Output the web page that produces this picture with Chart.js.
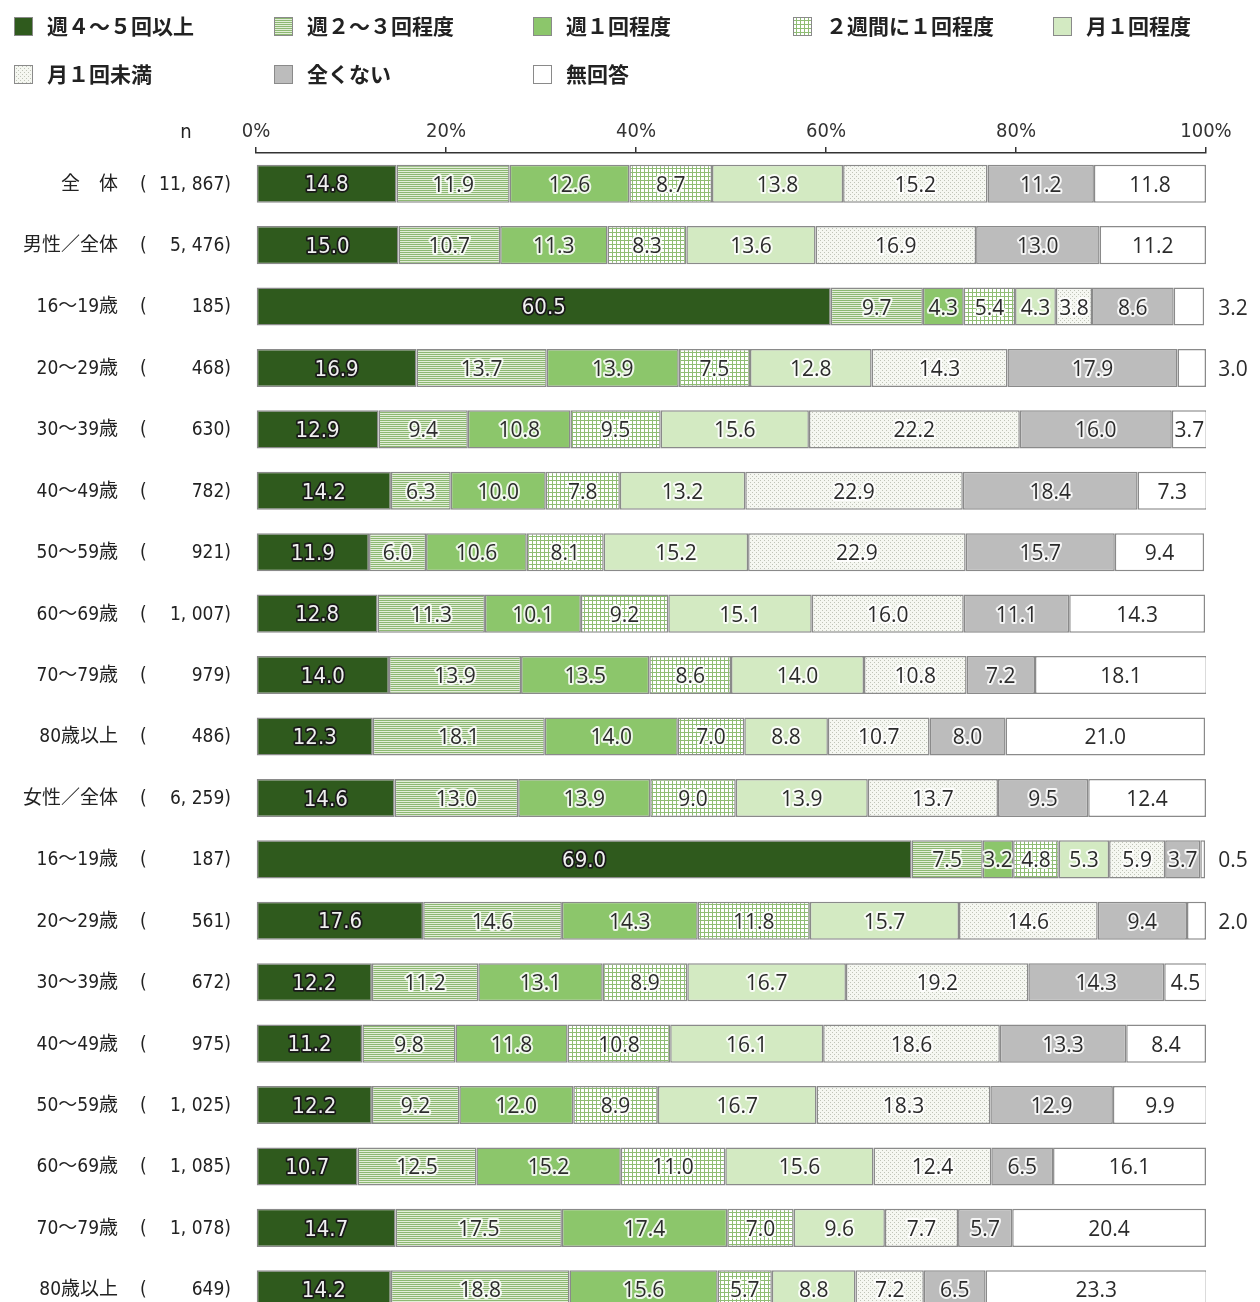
<!DOCTYPE html>
<html lang="ja">
<head>
<meta charset="UTF-8">
<title>運動の頻度</title>
<script src="https://cdn.jsdelivr.net/npm/chart.js"></script>
<style>
  html, body { margin: 0; padding: 0; background: #fff; overflow: hidden; }
  .wrap { position: relative; width: 1260px; height: 1322px; }
</style>
</head>
<body>
<div class="wrap"><canvas id="chart"></canvas></div>
<script>
// ---- data ----
const groupNames = ['全　体', '男性／全体', '16～19歳', '20～29歳', '30～39歳', '40～49歳', '50～59歳',
  '60～69歳', '70～79歳', '80歳以上', '女性／全体', '16～19歳', '20～29歳', '30～39歳', '40～49歳',
  '50～59歳', '60～69歳', '70～79歳', '80歳以上'];
const groupN = ['11, 867', '5, 476', '185', '468', '630', '782', '921', '1, 007', '979', '486',
  '6, 259', '187', '561', '672', '975', '1, 025', '1, 085', '1, 078', '649'];
const seriesNames = ['週４～５回以上', '週２～３回程度', '週１回程度', '２週間に１回程度',
  '月１回程度', '月１回未満', '全くない', '無回答'];

const week4to5   = [14.8, 15.0, 60.5, 16.9, 12.9, 14.2, 11.9, 12.8, 14.0, 12.3, 14.6, 69.0, 17.6, 12.2, 11.2, 12.2, 10.7, 14.7, 14.2];
const week2to3   = [11.9, 10.7, 9.7, 13.7, 9.4, 6.3, 6.0, 11.3, 13.9, 18.1, 13.0, 7.5, 14.6, 11.2, 9.8, 9.2, 12.5, 17.5, 18.8];
const week1      = [12.6, 11.3, 4.3, 13.9, 10.8, 10.0, 10.6, 10.1, 13.5, 14.0, 13.9, 3.2, 14.3, 13.1, 11.8, 12.0, 15.2, 17.4, 15.6];
const biweekly   = [8.7, 8.3, 5.4, 7.5, 9.5, 7.8, 8.1, 9.2, 8.6, 7.0, 9.0, 4.8, 11.8, 8.9, 10.8, 8.9, 11.0, 7.0, 5.7];
const monthly    = [13.8, 13.6, 4.3, 12.8, 15.6, 13.2, 15.2, 15.1, 14.0, 8.8, 13.9, 5.3, 15.7, 16.7, 16.1, 16.7, 15.6, 9.6, 8.8];
const lessMonth  = [15.2, 16.9, 3.8, 14.3, 22.2, 22.9, 22.9, 16.0, 10.8, 10.7, 13.7, 5.9, 14.6, 19.2, 18.6, 18.3, 12.4, 7.7, 7.2];
const never      = [11.2, 13.0, 8.6, 17.9, 16.0, 18.4, 15.7, 11.1, 7.2, 8.0, 9.5, 3.7, 9.4, 14.3, 13.3, 12.9, 6.5, 5.7, 6.5];
const noAnswer   = [11.8, 11.2, 3.2, 3.0, 3.7, 7.3, 9.4, 14.3, 18.1, 21.0, 12.4, 0.5, 2.0, 4.5, 8.4, 9.9, 16.1, 20.4, 23.3];

const xTicks = [0, 20, 40, 60, 80, 100];

const NARROW = '"DejaVu Sans Condensed", "Liberation Sans Narrow", "Liberation Sans"';

// ---- fills ----
function makePattern(size, draw) {
  const c = document.createElement('canvas');
  c.width = size; c.height = size;
  const g = c.getContext('2d');
  draw(g, size);
  return g.createPattern(c, 'repeat');
}
const stripeFill = makePattern(4, (g, s) => {
  g.fillStyle = '#e2eed8'; g.fillRect(0, 0, s, s);
  g.fillStyle = '#8db872'; g.fillRect(0, 0, s, 1); g.fillRect(0, 2, s, 1);
});
const gridFill = makePattern(4, (g, s) => {
  g.fillStyle = '#ffffff'; g.fillRect(0, 0, s, s);
  g.fillStyle = '#8fbd74'; g.fillRect(0, 0, s, 1); g.fillRect(0, 0, 1, s);
});
const dotFill = makePattern(4, (g, s) => {
  g.fillStyle = '#f5f7f1'; g.fillRect(0, 0, s, s);
  g.fillStyle = '#c0c4b8'; g.fillRect(0, 0, 1, 1); g.fillRect(2, 2, 1, 1);
});
const fills = ['#2f5a1d', stripeFill, '#8cc66b', gridFill, '#d3eac2', dotFill, '#bcbcbc', '#ffffff'];
const seriesData = [week4to5, week2to3, week1, biweekly, monthly, lessMonth, never, noAnswer];

// ---- plugins ----
const labelsPlugin = {
  id: 'segLabels',
  afterDatasetsDraw(chart) {
    const ctx = chart.ctx;
    ctx.save();
    ctx.textAlign = 'center';
    ctx.textBaseline = 'middle';
    ctx.lineJoin = 'round';
    chart.data.datasets.forEach((ds, d) => {
      const meta = chart.getDatasetMeta(d);
      meta.data.forEach((el, i) => {
        const v = ds.data[i];
        let x = (el.x + el.base) / 2;
        const y = el.y + 2;
        const txt = v.toFixed(1);
        if (d === 0) {
          ctx.font = '22px ' + NARROW;
          ctx.lineWidth = 3.5;
          ctx.strokeStyle = '#1a1a1a';
          ctx.strokeText(txt, x, y);
          ctx.fillStyle = '#f0f0f0';
          ctx.fillText(txt, x, y);
          return;
        }
        if (d === 7 && v < 3.5) x = chart.chartArea.right + 27;
        ctx.font = '21px "Open Sans", "Noto Sans"';
        ctx.lineWidth = 4;
        ctx.strokeStyle = 'rgba(255,255,255,0.85)';
        ctx.strokeText(txt, x, y);
        ctx.fillStyle = '#2b2b2b';
        ctx.fillText(txt, x, y);
      });
    });
    ctx.restore();
  }
};

const sidePlugin = {
  id: 'sideText',
  afterDraw(chart) {
    const ctx = chart.ctx;
    const yScale = chart.scales.y;
    ctx.save();
    ctx.fillStyle = '#222';
    ctx.textBaseline = 'middle';
    ctx.font = '20px ' + NARROW;
    ctx.textAlign = 'center';
    ctx.fillText('n', 186, 133);
    groupNames.forEach((name, i) => {
      const y = yScale.getPixelForValue(i) + 1;
      ctx.font = '19px ' + NARROW + ', "Noto Sans CJK JP"';
      ctx.textAlign = 'right';
      ctx.fillText(name, 118, y);
      ctx.textAlign = 'left';
      ctx.fillText('(', 140, y);
      ctx.textAlign = 'right';
      ctx.fillText(groupN[i] + ')', 231, y);
    });
    // legend
    const cols = [14, 274, 533, 793, 1053];
    ctx.font = 'bold 21px "Noto Sans CJK JP"';
    ctx.textAlign = 'left';
    seriesNames.forEach((name, i) => {
      const bx = cols[i % 5];
      const cy = i < 5 ? 26 : 74;
      ctx.fillStyle = fills[i];
      ctx.fillRect(bx, cy - 9, 18, 18);
      ctx.strokeStyle = '#8a8a8a';
      ctx.lineWidth = 1;
      ctx.strokeRect(bx + 0.5, cy - 8.5, 18, 18);
      ctx.fillStyle = '#222';
      ctx.fillText(name, bx + 33, cy);
    });
    ctx.restore();
  }
};

// ---- chart ----
new Chart(document.getElementById('chart'), {
  type: 'bar',
  data: {
    labels: groupNames,
    datasets: seriesData.map((arr, i) => ({
      label: seriesNames[i],
      data: arr,
      backgroundColor: fills[i],
      borderColor: '#8a8a8a',
      borderWidth: 1.5,
      borderSkipped: false,
      barPercentage: 0.62,
      categoryPercentage: 1.0
    }))
  },
  options: {
    indexAxis: 'y',
    responsive: true,
    maintainAspectRatio: false,
    animation: false,
    layout: { padding: { top: 113, left: 256, right: 54, bottom: 2 } },
    plugins: { legend: { display: false }, tooltip: { enabled: false } },
    scales: {
      x: {
        position: 'top',
        stacked: true,
        min: 0,
        max: 100,
        afterBuildTicks: (scale) => { scale.ticks = xTicks.map(v => ({ value: v })); },
        afterFit: (scale) => { scale.height = 40; },
        ticks: {
          color: '#333',
          padding: 3,
          maxRotation: 0,
          font: { family: NARROW, size: 20 },
          callback: v => v + '%'
        },
        grid: { drawOnChartArea: false, drawTicks: true, tickLength: 6, color: '#333', lineWidth: 1.5 },
        border: { display: true, color: '#333', width: 1.5 }
      },
      y: {
        stacked: true,
        display: false
      }
    }
  },
  plugins: [labelsPlugin, sidePlugin]
});
</script>
</body>
</html>
